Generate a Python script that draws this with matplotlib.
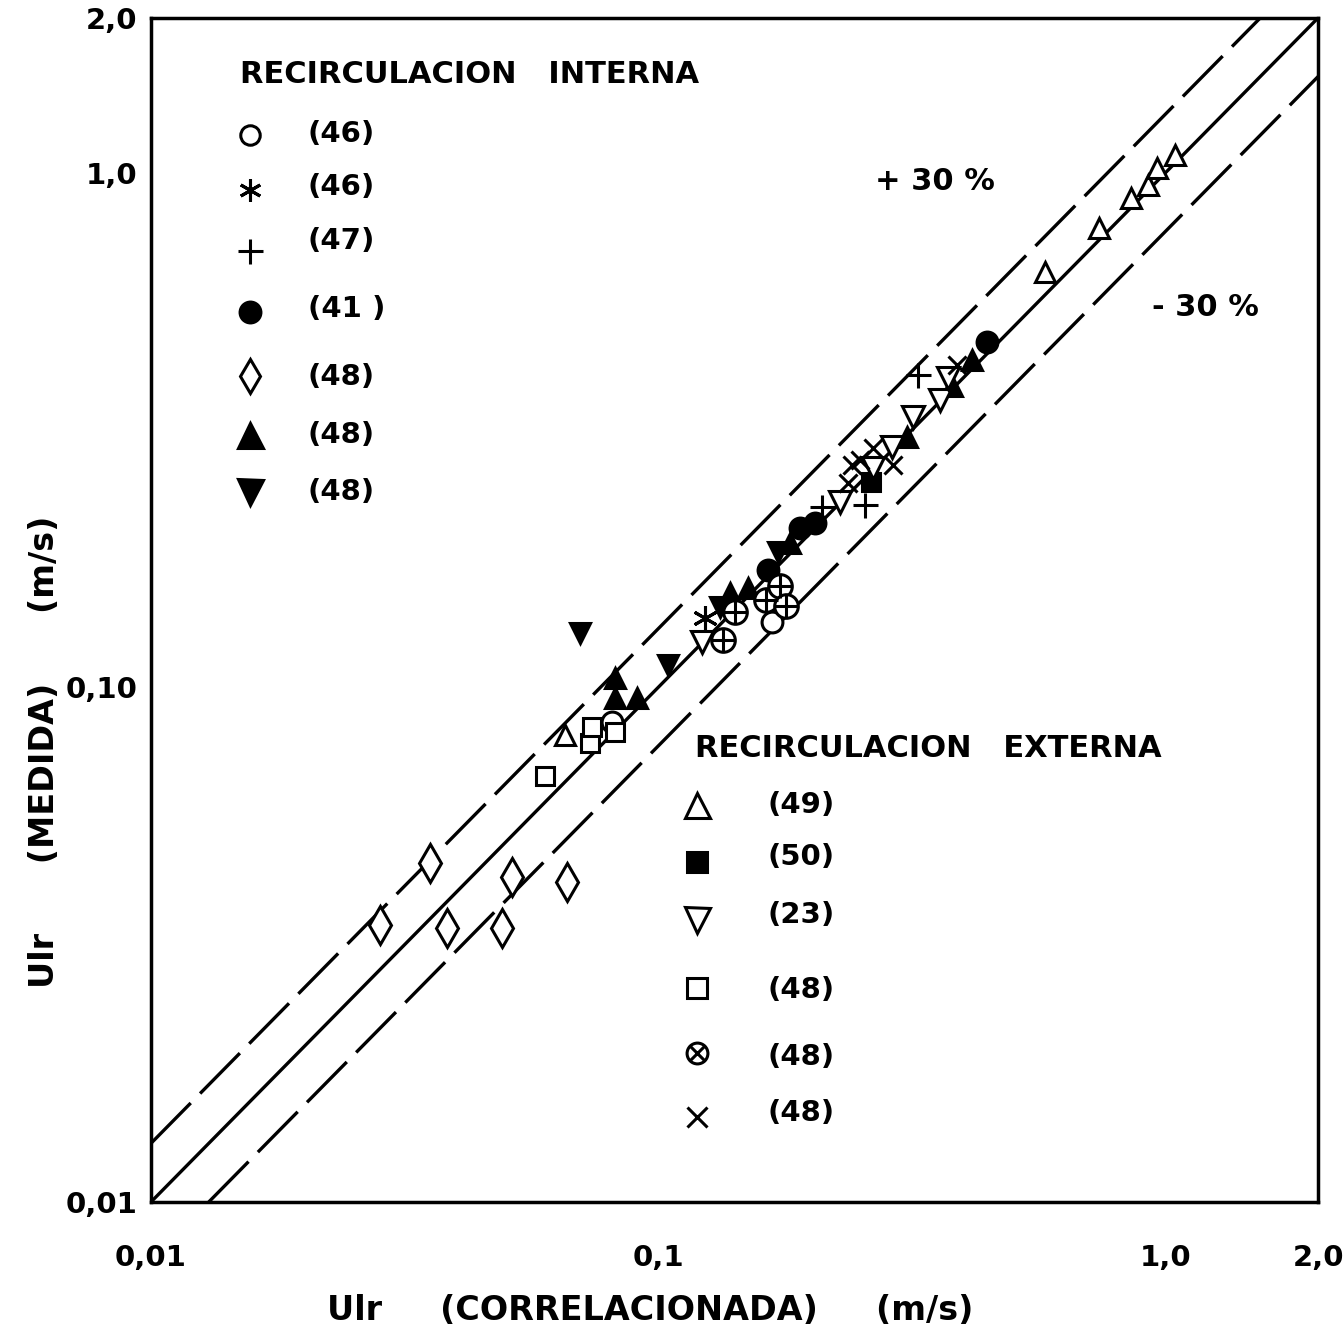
import matplotlib
matplotlib.use("Agg")
import matplotlib.pyplot as plt
import numpy as np

plt.rcParams['font.family'] = ['DejaVu Sans']

# ---------------- data ----------------
# RECIRCULACION INTERNA
circ_open_x = [0.0812, 0.168]
circ_open_y = [0.0857, 0.134]
aster_x = [0.1238]
aster_y = [0.1365]
plus_x = [0.2106, 0.256, 0.3257]
plus_y = [0.2243, 0.2263, 0.405]
circ_fill_x = [0.1648, 0.1906, 0.204, 0.4456]
circ_fill_y = [0.1692, 0.2042, 0.2088, 0.469]
diam_x = [0.0355, 0.0283, 0.0384, 0.0515, 0.0492, 0.0661]
diam_y = [0.0456, 0.0345, 0.0341, 0.0428, 0.0341, 0.0419]
triup_fill_x = [0.0823, 0.0823, 0.0909, 0.1387, 0.1505, 0.1822, 0.3098, 0.380, 0.4162]
triup_fill_y = [0.1044, 0.0954, 0.0954, 0.1527, 0.156, 0.191, 0.3068, 0.3855, 0.4331]
tridn_fill_x = [0.0702, 0.1046, 0.1326, 0.1724]
tridn_fill_y = [0.1276, 0.1106, 0.1434, 0.1834]

# RECIRCULACION EXTERNA
triup_open_x = [0.0656, 0.580, 0.741, 0.857, 0.926, 0.964, 1.046]
triup_open_y = [0.0809, 0.642, 0.782, 0.894, 0.948, 1.023, 1.084]
sq_fill_x = [0.263]
sq_fill_y = [0.2508]
tridn_open_x = [0.1221, 0.2286, 0.2655, 0.2893, 0.3184, 0.3599, 0.3733]
tridn_open_y = [0.1226, 0.2293, 0.267, 0.2934, 0.3356, 0.3622, 0.3996]
sq_open_x = [0.0598, 0.0734, 0.0741, 0.0823]
sq_open_y = [0.0673, 0.0780, 0.0838, 0.0819]
oplus_x = [0.1343, 0.1419, 0.1633, 0.174, 0.1789]
oplus_y = [0.1237, 0.1402, 0.1479, 0.1575, 0.144]
cross_x = [0.237, 0.2413, 0.2503, 0.2655, 0.2907, 0.3888]
cross_y = [0.2497, 0.2707, 0.2768, 0.292, 0.2707, 0.4235]

interna_labels = ["(46)", "(46)", "(47)", "(41 )", "(48)", "(48)", "(48)"]
externa_labels = ["(49)", "(50)", "(23)", "(48)", "(48)", "(48)"]

x_ticks = [0.01, 0.1, 1.0, 2.0]
x_ticklabels = ["0,01", "0,1", "1,0", "2,0"]
y_ticks = [0.01, 0.10, 1.0, 2.0]
y_ticklabels = ["0,01", "0,10", "1,0", "2,0"]

band = 1.3   # +/-30 % lines
lim = (0.01, 2.0)

# ---------------- figure ----------------
fig = plt.figure(figsize=(13.43, 13.32), dpi=100)
ax = fig.add_axes([0.1124, 0.0976, 0.8690, 0.8889])
ax.set_xscale('log')
ax.set_yscale('log')
ax.set_xlim(*lim)
ax.set_ylim(*lim)

for s in ax.spines.values():
    s.set_linewidth(2.5)

lw = 2.4
xl = np.array(lim)
ax.plot(xl, xl, color='k', lw=lw, solid_capstyle='butt')
xu = np.array([lim[0], lim[1] / band])
ax.plot(xu, xu * band, color='k', lw=lw, dashes=(17, 4))
xd = np.array([lim[0] * band, lim[1]])
ax.plot(xd, xd / band, color='k', lw=lw, dashes=(17, 4))

mew = 2.2
common = dict(ls='none', color='k', mec='k', mew=mew, clip_on=False)

specs = [
    (circ_open_x, circ_open_y, dict(marker='o', mfc='white', ms=15)),
    (aster_x, aster_y, dict(marker=(6, 2, 0), ms=18)),
    (plus_x, plus_y, dict(marker='+', ms=18)),
    (circ_fill_x, circ_fill_y, dict(marker='o', mfc='k', ms=15)),
    (diam_x, diam_y, dict(marker='d', mfc='white', ms=19)),
    (triup_fill_x, triup_fill_y, dict(marker='^', mfc='k', ms=15)),
    (tridn_fill_x, tridn_fill_y, dict(marker='v', mfc='k', ms=15)),
    (triup_open_x, triup_open_y, dict(marker='^', mfc='white', ms=15)),
    (sq_fill_x, sq_fill_y, dict(marker='s', mfc='k', ms=13)),
    (tridn_open_x, tridn_open_y, dict(marker='v', mfc='white', ms=16)),
    (sq_open_x, sq_open_y, dict(marker='s', mfc='white', ms=13)),
    (oplus_x, oplus_y, dict(marker='o', mfc='white', ms=17)),
    (oplus_x, oplus_y, dict(marker='+', ms=17)),
    (cross_x, cross_y, dict(marker='x', ms=13)),
]
for xs, ys, kw in specs:
    ax.plot(xs, ys, **common, **kw)

# ticks
ax.xaxis.set_major_locator(matplotlib.ticker.FixedLocator(x_ticks))
ax.xaxis.set_minor_locator(matplotlib.ticker.NullLocator())
ax.yaxis.set_major_locator(matplotlib.ticker.FixedLocator(y_ticks))
ax.yaxis.set_minor_locator(matplotlib.ticker.NullLocator())
ax.set_xticklabels(x_ticklabels)
ax.set_yticklabels(y_ticklabels)
ax.tick_params(axis='both', length=0, labelsize=21)
ax.tick_params(axis='x', pad=30)
ax.tick_params(axis='y', pad=10)
for t in ax.get_xticklabels() + ax.get_yticklabels():
    t.set_fontweight('bold')

tf = dict(fontsize=21, fontweight='bold', transform=ax.transAxes, va='center')
tt = dict(tf, fontsize=22)

# interna legend
ax.text(0.0763, 0.952, "RECIRCULACION   INTERNA", ha='left', **tt)
int_sym_y = [0.901, 0.855, 0.803, 0.752, 0.698, 0.648, 0.600]
int_lab_y = [0.902, 0.857, 0.812, 0.754, 0.697, 0.648, 0.600]
int_markers = [
    dict(marker='o', mfc='white', ms=14),
    dict(marker=(6, 2, 0), ms=16),
    dict(marker='+', ms=18),
    dict(marker='o', mfc='k', ms=15),
    dict(marker='d', mfc='white', ms=17),
    dict(marker='^', mfc='k', ms=18),
    dict(marker='v', mfc='k', ms=18),
]
sx = 0.0848
for yy, ly, mk, lab in zip(int_sym_y, int_lab_y, int_markers, interna_labels):
    ax.plot([sx], [yy], transform=ax.transAxes, **common, **mk)
    ax.text(0.1345, ly, lab, ha='left', **tf)

# externa legend
ax.text(0.466, 0.3834, "RECIRCULACION   EXTERNA", ha='left', **tt)
ext_sym_y = [0.3353, 0.2872, 0.2382, 0.1807, 0.1258, 0.0718]
ext_lab_y = [0.3353, 0.2914, 0.2424, 0.1791, 0.1225, 0.0752]
ext_markers = [
    [dict(marker='^', mfc='white', ms=18)],
    [dict(marker='s', mfc='k', ms=14)],
    [dict(marker='v', mfc='white', ms=18)],
    [dict(marker='s', mfc='white', ms=14)],
    [dict(marker='o', mfc='white', ms=15), dict(marker='x', ms=10)],
    [dict(marker='x', ms=14)],
]
ex = 0.468
for yy, ly, mks, lab in zip(ext_sym_y, ext_lab_y, ext_markers, externa_labels):
    for mk in mks:
        ax.plot([ex], [yy], transform=ax.transAxes, **common, **mk)
    ax.text(0.5287, ly, lab, ha='left', **tf)

# band annotations
ax.text(0.6718, 0.8615, "+ 30 %", ha='center', **tt)
ax.text(0.9032, 0.7559, "- 30 %", ha='center', **tt)

# axis labels
fig.text(0.484, 0.0165, "Ulr     (CORRELACIONADA)     (m/s)", ha='center', va='center',
         fontsize=24, fontweight='bold')
fig.text(0.0335, 0.4354, "Ulr      (MEDIDA)      (m/s)", ha='center', va='center',
         rotation=90, fontsize=24, fontweight='bold')

fig.savefig("out.png", dpi=100)
